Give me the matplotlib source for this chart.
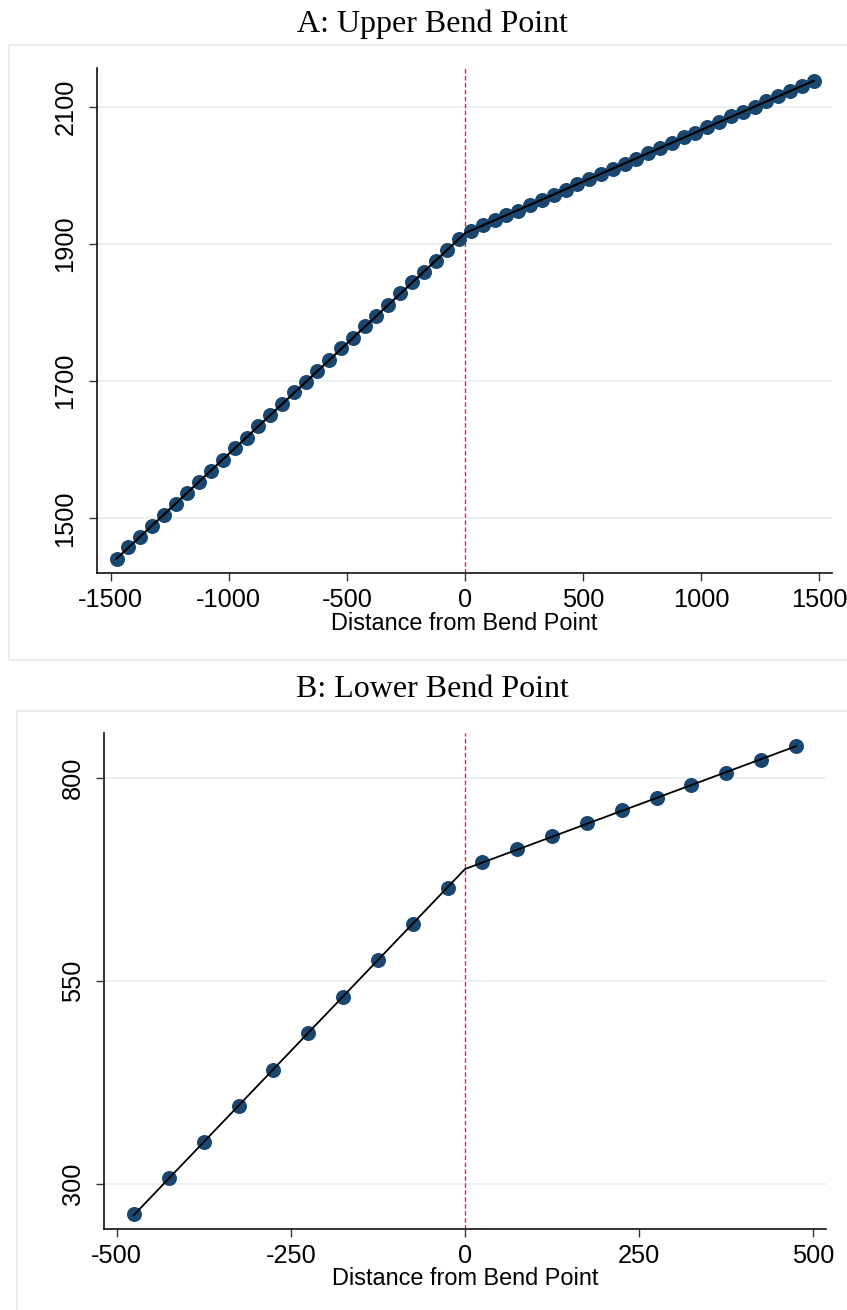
import numpy as np
import matplotlib
matplotlib.use("Agg")
import matplotlib.pyplot as plt
from matplotlib.patches import Rectangle

# ---- data -------------------------------------------------------------
# Panel A: upper bend point, bins of 50 around the kink
dist_upper = [-1475, -1425, -1375, -1325, -1275, -1225, -1175, -1125, -1075, -1025,
              -975, -925, -875, -825, -775, -725, -675, -625, -575, -525,
              -475, -425, -375, -325, -275, -225, -175, -125, -75, -25,
              25, 75, 125, 175, 225, 275, 325, 375, 425, 475,
              525, 575, 625, 675, 725, 775, 825, 875, 925, 975,
              1025, 1075, 1125, 1175, 1225, 1275, 1325, 1375, 1425, 1475]
value_upper = [1441.4, 1457.5, 1473.1, 1488.7, 1505.3, 1521.4, 1536.6, 1553.6, 1569.3, 1585.4,
               1602.9, 1617.6, 1635.1, 1650.8, 1666.3, 1684.0, 1699.0, 1715.0, 1730.5, 1747.9,
               1762.9, 1779.9, 1795.4, 1811.4, 1828.3, 1843.8, 1859.3, 1875.7, 1890.7, 1907.5,
               1919.3, 1928.0, 1935.3, 1941.5, 1948.4, 1956.1, 1964.3, 1971.2, 1978.4, 1986.6,
               1994.9, 2001.7, 2009.0, 2016.3, 2024.4, 2032.2, 2039.6, 2047.3, 2055.6, 2061.8,
               2070.1, 2077.8, 2086.5, 2091.9, 2100.0, 2108.7, 2115.5, 2122.4, 2130.5, 2137.3]

# Panel B: lower bend point
dist_lower = [-475, -425, -375, -325, -275, -225, -175, -125, -75, -25,
              25, 75, 125, 175, 225, 275, 325, 375, 425, 475]
value_lower = [262.7, 306.7, 351.0, 395.7, 440.0, 485.0, 530.3, 575.1, 620.2, 664.5,
               695.7, 711.8, 728.2, 743.8, 759.9, 775.0, 791.0, 806.2, 821.8, 839.4]

titles = ["A: Upper Bend Point", "B: Lower Bend Point"]
xlabel = "Distance from Bend Point"
xticks_upper = [-1500, -1000, -500, 0, 500, 1000, 1500]
yticks_upper = [1500, 1700, 1900, 2100]
xticks_lower = [-500, -250, 0, 250, 500]
yticks_lower = [300, 550, 800]


def kinked_fit(x, y):
    """Piecewise-linear least squares fit with a kink at zero."""
    x = np.asarray(x, float)
    y = np.asarray(y, float)
    X = np.column_stack([np.ones_like(x), x, np.maximum(x, 0)])
    coef, *_ = np.linalg.lstsq(X, y, rcond=None)
    xs = np.array([x.min(), 0.0, x.max()])
    ys = coef[0] + coef[1] * xs + coef[2] * np.maximum(xs, 0)
    return xs, ys


# ---- layout -------------------------------------------------------------
W, H = 847, 1310
fig = plt.figure(figsize=(W / 100, H / 100), dpi=100)
fig.patch.set_facecolor("white")

SANS = ["Liberation Sans", "DejaVu Sans"]
SERIF = ["Liberation Serif", "DejaVu Serif"]
NAVY = "#1a476f"
GRID = "#e9f0f2"
BORDER = "#e3eaec"


def rect(l, t, r, b):
    return [l / W, 1 - b / H, (r - l) / W, (b - t) / H]


# light outer frames around each panel
fig.patches.append(Rectangle((9 / W, 1 - 660 / H), (852 - 9) / W, (660 - 45) / H,
                             transform=fig.transFigure, fill=False,
                             edgecolor=BORDER, linewidth=1.2))
fig.patches.append(Rectangle((17 / W, 1 - 1320 / H), (852 - 17) / W, (1320 - 711) / H,
                             transform=fig.transFigure, fill=False,
                             edgecolor=BORDER, linewidth=1.2))

panels = [
    dict(x=dist_upper, y=value_upper, box=(97, 68, 832, 573),
         xlim=(-1558, 1553), ylim=(1420.3, 2156.4),
         xticks=xticks_upper, yticks=yticks_upper,
         title_y=32, label_y=630, lw=1.5),
    dict(x=dist_lower, y=value_lower, box=(104, 733, 826, 1229),
         xlim=(-518, 518), ylim=(244.2, 855.0),
         xticks=xticks_lower, yticks=yticks_lower,
         title_y=697, label_y=1285, lw=1.3),
]

for p, title in zip(panels, titles):
    l, t, r, b = p["box"]
    ax = fig.add_axes(rect(l, t, r, b))
    ax.set_facecolor("white")
    ax.set_xlim(*p["xlim"])
    ax.set_ylim(*p["ylim"])

    for yv in p["yticks"]:
        ax.axhline(yv, color=GRID, lw=1.4, zorder=0)

    ax.axvline(0, color="#e0264f", lw=1.0, dashes=(3.2, 1.8), zorder=1)

    ax.plot(p["x"], p["y"], "o", color=NAVY, markersize=10.8,
            markeredgewidth=0, zorder=2)
    fx, fy = kinked_fit(p["x"], p["y"])
    ax.plot(fx, fy, color="black", lw=p["lw"], zorder=3,
            solid_joinstyle="miter")

    for side in ("top", "right"):
        ax.spines[side].set_visible(False)
    for side in ("left", "bottom"):
        ax.spines[side].set_linewidth(1.2)
        ax.spines[side].set_color("#111111")

    ax.set_xticks(p["xticks"])
    ax.set_yticks(p["yticks"])
    ax.set_xticklabels([str(v) for v in p["xticks"]], family=SANS, fontsize=18.3)
    ax.set_yticklabels([str(v) for v in p["yticks"]], family=SANS, fontsize=18.3,
                       rotation=90, va="center")
    ax.tick_params(axis="both", direction="out", length=6, width=1.0,
                   color="#333333")
    ax.tick_params(axis="x", pad=5)
    ax.tick_params(axis="y", pad=8)

    fig.text(((l + r) / 2) / W, 1 - p["label_y"] / H, xlabel, family=SANS,
             fontsize=16.9, ha="center", va="baseline")
    fig.text(432 / W, 1 - p["title_y"] / H, title, family=SERIF,
             fontsize=23, ha="center", va="baseline")

fig.savefig("out.png", dpi=100, facecolor="white")
